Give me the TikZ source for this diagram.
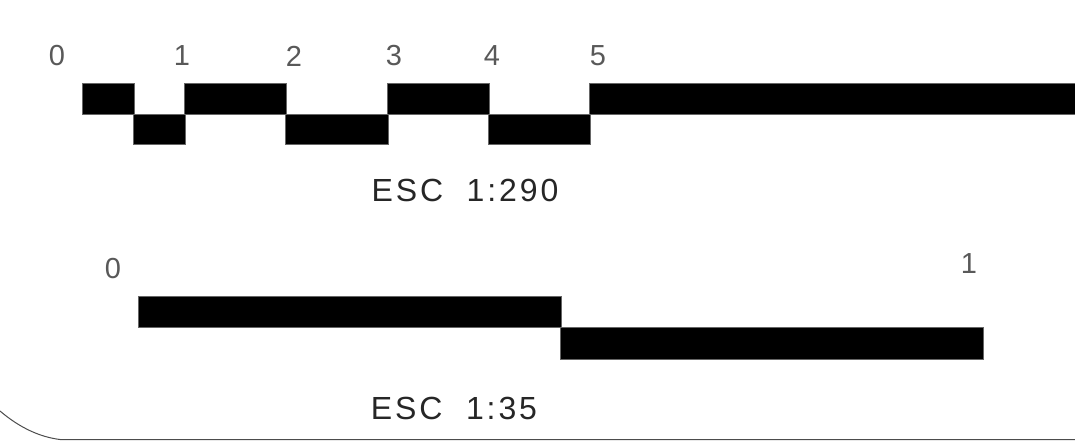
\documentclass[tikz,border=0pt]{standalone}
\usepackage{fontspec}
\setmainfont{Liberation Sans}
\newfontfamily\widesans[LetterSpace=9]{Liberation Sans}
\begin{document}
\begin{tikzpicture}[x=1pt,y=-1pt,
  bar/.style={fill=black,draw=black!60,line width=0.6pt},
  tick/.style={font=\fontsize{29}{29}\selectfont,text=black!65,inner sep=0pt},
  scaletext/.style={font=\widesans\fontsize{32}{32}\selectfont,text=black!85,inner sep=0pt},
  frame/.style={draw=black!70,line width=1pt}]
\useasboundingbox (0,0) rectangle (1075,441);
% top scale bar (1:290)
\draw[bar] (82,83) rectangle (134,114);
\draw[bar] (133,114) rectangle (185,144);
\draw[bar] (184,83) rectangle (286,114);
\draw[bar] (285,114) rectangle (388,144);
\draw[bar] (387,83) rectangle (489,114);
\draw[bar] (488,114) rectangle (590,144);
\draw[bar] (589,83) rectangle (1080,114);
\node[tick] (t0) at (57,56) {0};
\node[tick] (t1) at (182,56) {1};
\node[tick] (t2) at (294,56) {2};
\node[tick] (t3) at (394,56) {3};
\node[tick] (t4) at (492,56) {4};
\node[tick] (t5) at (598,56) {5};
\node[scaletext] (s1) at (465,190) {ESC\ \ 1:290};
% bottom scale bar (1:35)
\draw[bar] (138,296) rectangle (561,327);
\draw[bar] (560,327) rectangle (983,359);
\node[tick] (b0) at (113,269) {0};
\node[tick] (b1) at (969,264) {1};
\node[scaletext] (s2) at (454,408) {ESC\ \ 1:35};
% frame corner
\draw[frame] (0,411) .. controls (20,428) and (40,437) .. (60,439.5) -- (1075,439.5);
\end{tikzpicture}
\end{document}
